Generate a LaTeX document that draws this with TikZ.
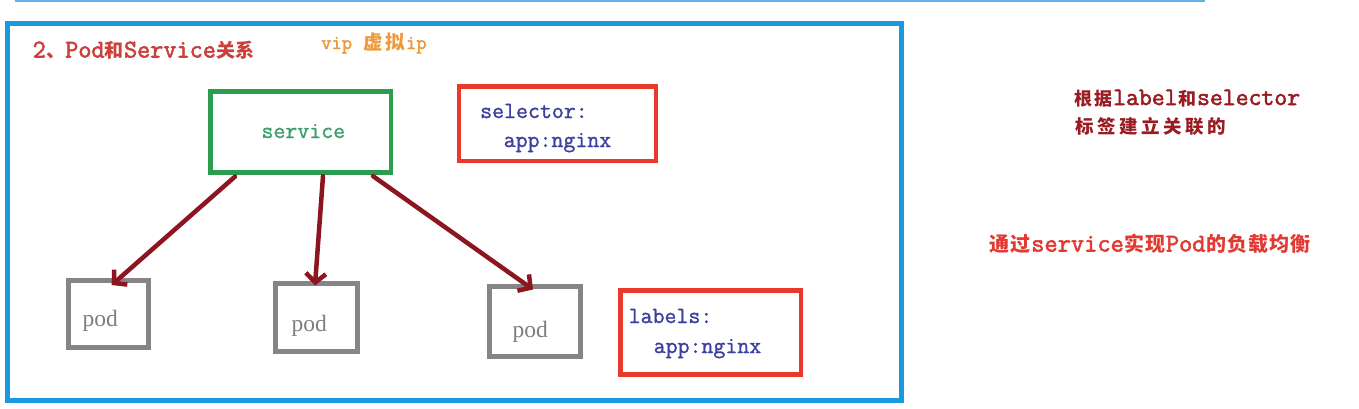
\documentclass[tikz,border=0pt]{standalone}
\usepackage{fontspec}
\newfontfamily\cjk{Noto Sans CJK SC}
\newfontfamily\lmono[FakeBold=1.2]{Latin Modern Mono}
\newfontfamily\lmonob[FakeBold=2.2]{Latin Modern Mono}
\newfontfamily\lserif{Liberation Serif}
\usetikzlibrary{arrows.meta,calc}
\definecolor{frameblue}{HTML}{1A98E0}
\definecolor{topblue}{HTML}{5DB5EA}
\definecolor{svcgreen}{HTML}{2A9D4F}
\definecolor{svctext}{HTML}{3E9F6E}
\definecolor{boxred}{HTML}{E8392B}
\definecolor{textblue}{HTML}{3B3FA0}
\definecolor{podgray}{HTML}{858585}
\definecolor{podtext}{HTML}{7E7E7E}
\definecolor{arrowred}{HTML}{8C1520}
\definecolor{titlered}{HTML}{C9403C}
\definecolor{viporange}{HTML}{EE9A3C}
\definecolor{darkred}{HTML}{9A1C22}
\definecolor{brightred}{HTML}{E23A33}
\makeatletter
\def\zh@end{zh@end@marker}
\newcommand\zh[3]{\def\zh@w{#1}\def\zh@g{#2}\zh@loop#3\zh@end}
\def\zh@loop#1{\ifx#1\zh@end\else\makebox[\zh@w][c]{\fontsize{\zh@g}{\zh@g}\cjk\bfseries #1}\expandafter\zh@loop\fi}
\makeatother
\begin{document}
\begin{tikzpicture}[x=1pt,y=-1pt,
  box/.style={draw, inner sep=0pt, outer sep=0pt, line width=4.5pt},
  podbox/.style={box, draw=podgray, line width=5pt},
  txt/.style={inner sep=0pt, anchor=base west},
  monotxt/.style={txt, font=\lmono\fontsize{#1}{#1}\selectfont},
  boldtxt/.style={txt, font=\lmonob\fontsize{#1}{#1}\selectfont},
  podtxt/.style={txt, text=podtext, font=\lserif\fontsize{23.5}{23.5}\selectfont},
  arr/.style={draw=arrowred, line width=4.5pt, line cap=round,
    -{Straight Barb[length=9pt,width=20pt]}}]
\useasboundingbox (0,0) rectangle (1359,408);
\fill[white] (0,0) rectangle (1359,408);
\draw[topblue, line width=2pt] (15,0.5) -- (1205,0.5);
\node[box, draw=frameblue, line width=5pt, minimum width=893.5pt, minimum height=376.5pt] (frame) at (454.25,211.75) {};
% title
\node[boldtxt=25.5, text=titlered] (title) at (32.5,57.5)
  {2\zh{19.4pt}{19pt}{、}Pod\zh{19.4pt}{19pt}{和}Service\zh{19.4pt}{19pt}{关系}};
\node[boldtxt=20, text=viporange] (vip) at (321,49) {vip \zh{21.8pt}{19.5pt}{虚拟}ip};
% service
\node[box, draw=svcgreen, minimum width=180.5pt, minimum height=81pt] (svc) at (300.75,132.1) {};
\node[monotxt=23.2, anchor=base, text=svctext] (svct) at (303.3,138) {service};
% selector
\node[box, draw=boxred, minimum width=197pt, minimum height=74.5pt] (selbox) at (557.5,123.75) {};
\node[monotxt=23.2, text=textblue] (sel1) at (480,118) {selector:};
\node[monotxt=23.2, text=textblue] (sel2) at (503.5,147) {app:nginx};
% labels
\node[box, draw=boxred, minimum width=180.5pt, minimum height=84pt] (labbox) at (710.75,332.5) {};
\node[monotxt=23.2, text=textblue] (lab1) at (628.5,323) {labels:};
\node[monotxt=23.2, text=textblue] (lab2) at (653.5,353) {app:nginx};
% pods
\node[podbox, minimum width=80pt, minimum height=67pt] (pod1) at (108,314) {};
\node[podtxt] (pod1t) at (82.5,326) {pod};
\node[podbox, minimum width=82pt, minimum height=68pt] (pod2) at (316.5,317.5) {};
\node[podtxt] (pod2t) at (291.5,331) {pod};
\node[podbox, minimum width=90.5pt, minimum height=69.5pt] (pod3) at (534.75,321.25) {};
\node[podtxt] (pod3t) at (512.5,337) {pod};
% arrows
\draw[arr] ($(svc.south west)+(24.5,4)$) -- ($(pod1.north)+(3.7,4.5)$);
\draw[arr] ($(svc.south west)+(112.5,3.5)$) -- ($(pod2.north)+(-1.5,2)$);
\draw[arr] ($(svc.south west)+(162.5,3.5)$) -- ($(pod3.north)+(-1.75,3)$);
% right notes
\node[boldtxt=25, text=darkred] (r1) at (1074,105)
  {\zh{19.5pt}{18pt}{根据}label\zh{19.5pt}{18pt}{和}selector};
\node[boldtxt=25, text=darkred] (r2) at (1074,133) {\zh{22pt}{18.5pt}{标签建立关联的}};
\node[boldtxt=25.7, text=brightred] (r3) at (989,251.5)
  {\zh{21pt}{20pt}{通过}service\zh{21pt}{20pt}{实现}Pod\zh{21pt}{20pt}{的负载均衡}};
\end{tikzpicture}
\end{document}
